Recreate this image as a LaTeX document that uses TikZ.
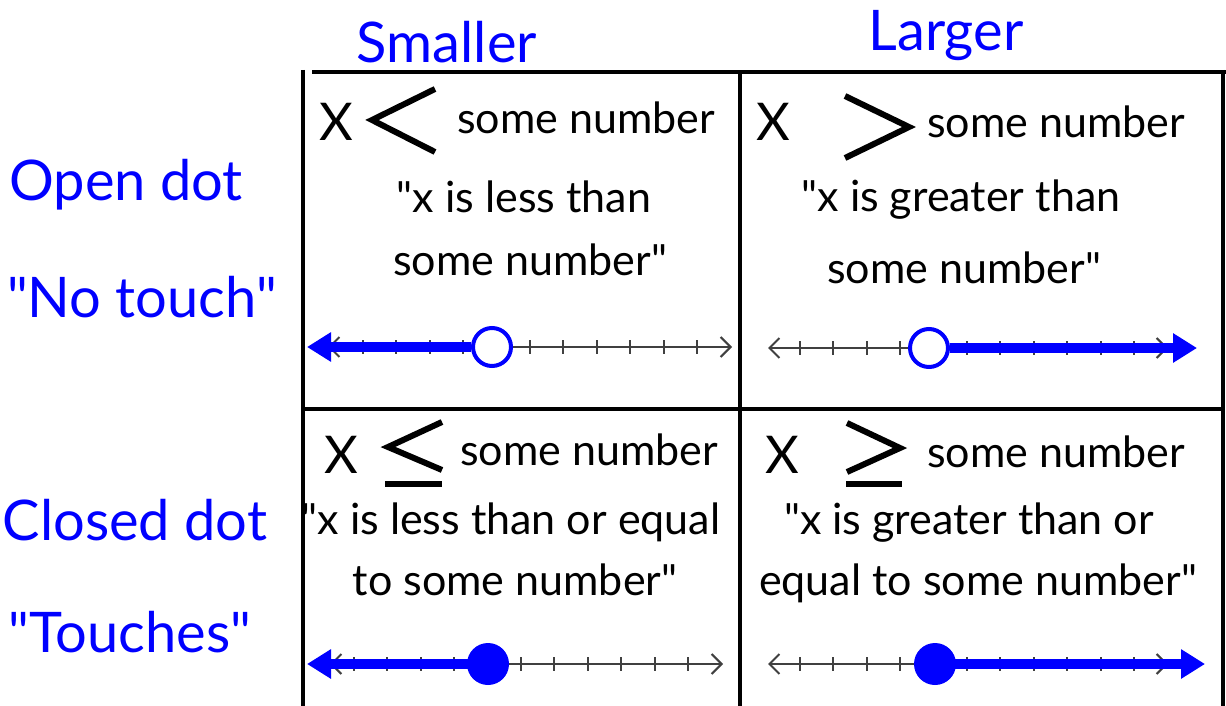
\documentclass[tikz,border=0pt]{standalone}
\usepackage{fontspec}
\setmainfont{Lato}[Ligatures=TeXOff]
\usepackage{xcolor}
\usepackage{tikz}
\usetikzlibrary{arrows.meta, positioning, calc}

\begin{document}
\begin{tikzpicture}[
  x=0.5pt, y=-0.5pt,
  headlbl/.style={text=blue, font=\fontsize{28}{32}\selectfont, inner sep=0pt},
  celltxt/.style={text=black, font=\fontsize{21.5}{26}\selectfont, inner sep=0pt},
  varlbl/.style={text=black, font=\fontsize{26}{30}\selectfont, inner sep=0pt},
  gridline/.style={line width=2pt, black},
  relsym/.style={line width=3pt, black},
  numaxis/.style={line width=1pt, black!75, {Straight Barb[length=5pt,width=10pt]}-{Straight Barb[length=5pt,width=10pt]}},
  tickmark/.style={line width=1pt, black!75},
  ray/.style={line width=5pt, blue, -{Triangle[length=12pt,width=14pt]}},
  opendot/.style={circle, draw=blue, line width=2pt, fill=white, minimum size=19pt, inner sep=0pt},
  closeddot/.style={circle, fill=blue, minimum size=21pt, inner sep=0pt}
]
\useasboundingbox (0,0) rectangle (1226,706);

% table lines
\draw[gridline] (303,70) -- (303,706);
\draw[gridline] (312,72) -- (1226,72);
\draw[gridline] (1223,70) -- (1223,706);
\draw[gridline] (740,72) -- (740,706);
\draw[gridline] (303,409) -- (1223,409);

% headings
\node[headlbl] (hsmall) at (447,42) {Smaller};
\node[headlbl] (hlarge) at (946,36) {Larger};
\node[headlbl] (hopen)  at (126,185) {Open dot};
\node[headlbl] (hnot)   at (142,297) {"No touch"};
\node[headlbl] (hclose) at (135,520) {Closed dot};
\node[headlbl] (htouch) at (130,632) {"Touches"};

% top left: less than
\node[varlbl]  (xlt)  at (336,122) {X};
\draw[relsym] (435,89) -- (372,120) -- (435,152);
\node[celltxt] (nlt)  at (586,118) {some number};
\node[celltxt] (qlt1) at (524,197) {"x is less than};
\node[celltxt] (qlt2) at (530,260) {some number"};

% top right: greater than
\node[varlbl]  (xgt)  at (773,122) {X};
\draw[relsym] (845,96) -- (909,127) -- (845,158);
\node[celltxt] (ngt)  at (1056,122) {some number};
\node[celltxt] (qgt1) at (961,200) {"x is greater than};
\node[celltxt] (qgt2) at (964,268) {some number"};

% bottom left: less or equal
\node[varlbl]  (xle)  at (341,455) {X};
\draw[relsym] (442,422) -- (388,447) -- (442,470);
\draw[relsym] (385,484) -- (442,484);
\node[celltxt] (nle)  at (589,450) {some number};
\node[celltxt] (qle1) at (511,522) {"x is less than or equal};
\node[celltxt] (qle2) at (515,580) {to some number"};

% bottom right: greater or equal
\node[varlbl]  (xge)  at (782,455) {X};
\draw[relsym] (847,423) -- (900,448) -- (847,472);
\draw[relsym] (846,484) -- (902,484);
\node[celltxt] (nge)  at (1056,452) {some number};
\node[celltxt] (qge1) at (969,523) {"x is greater than or};
\node[celltxt] (qge2) at (978,583) {equal to some number"};

% number lines
\foreach \xa/\xb/\tz/\yy in {328/732/363/347, 768/1168/800/348, 330/723/354/664, 768/1168/800/664}{
  \draw[numaxis] (\xa,\yy) -- (\xb,\yy);
  \foreach \k in {0,...,10}{
    \draw[tickmark] (\tz+33.4*\k,\yy-7) -- (\tz+33.4*\k,\yy+7);
  }
}

\node[opendot]   (dlt) at (492,347) {};
\node[opendot]   (dgt) at (929,348) {};
\node[closeddot] (dle) at (488,664) {};
\node[closeddot] (dge) at (935,664) {};

\coordinate (tlt) at (307,347);
\coordinate (tgt) at (1197,348);
\coordinate (tle) at (307,664);
\coordinate (tge) at (1205,664);

\draw[ray] (dlt) -- (tlt);
\draw[ray] (dgt) -- (tgt);
\draw[ray] (dle.center) -- (tle);
\draw[ray] (dge.center) -- (tge);

\end{tikzpicture}
\end{document}
